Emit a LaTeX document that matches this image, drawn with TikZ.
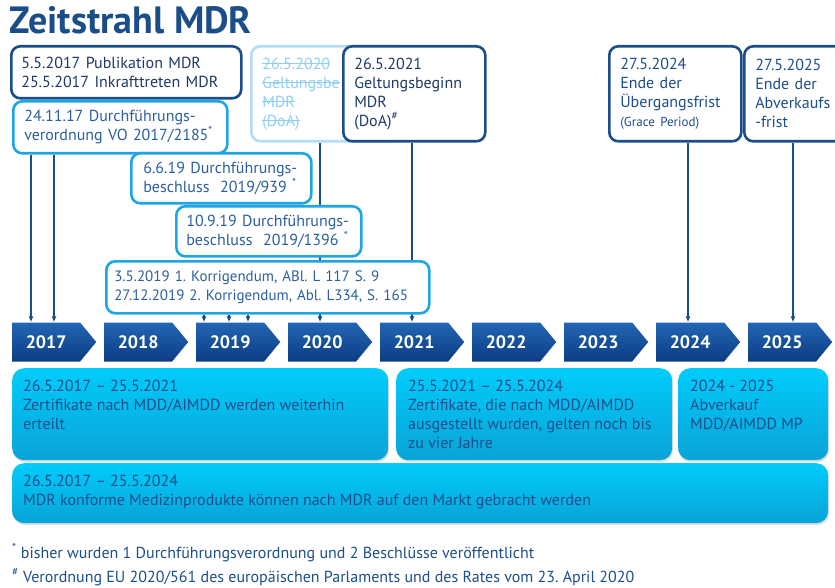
\documentclass[tikz,border=0pt]{standalone}
\usepackage{fontspec}
\setmainfont{PT Sans}
\usetikzlibrary{positioning,shapes.symbols,shadows,arrows.meta,backgrounds}
\definecolor{navy}{HTML}{1B4D89}
\definecolor{sky}{HTML}{1EA5E3}
\definecolor{pale}{HTML}{B3DDF6}
\definecolor{paletext}{HTML}{8FCFF3}
\definecolor{dktext}{HTML}{1E3A68}
\definecolor{lttext}{HTML}{2C5FA0}
\definecolor{cyantext}{HTML}{1C4E8C}
\definecolor{chevtop}{HTML}{2266B3}
\definecolor{chevbot}{HTML}{0C3C84}
\definecolor{cyantop}{HTML}{00CCFB}
\definecolor{cyanbot}{HTML}{0AA3D8}
\newsavebox\strkbox
\newcommand\strk[1]{\leavevmode\sbox\strkbox{#1}\rlap{\rule[0.3em]{\wd\strkbox}{0.07em}}\usebox\strkbox}
\frenchspacing

\begin{document}
\begin{tikzpicture}[x=1pt,y=-1pt]
	\tikzstyle{every node}+=[inner sep=0pt]
	\tikzstyle{body}=[font=\fontsize{16}{19}\selectfont]
	\tikzstyle{dkbox}=[body, draw=navy, line width=2.6pt, rounded corners=9pt, fill=white, text=dktext, align=left, inner xsep=10pt, anchor=north west]
	\tikzstyle{ltbox}=[dkbox, draw=sky, text=lttext]
	\tikzstyle{yearbox}=[signal, signal to=east, signal pointer angle=101, minimum width=84pt, minimum height=39pt, top color=chevtop, bottom color=chevbot, text=white, font=\fontsize{18}{18}\bfseries\selectfont, anchor=west]
	\tikzstyle{period}=[rounded corners=12pt, top color=cyantop, bottom color=cyanbot, drop shadow={opacity=0.25, shadow xshift=1pt, shadow yshift=-2pt}, anchor=north west]
	\tikzstyle{ptext}=[body, text=cyantext, align=left, anchor=north west]
	\tikzstyle{arr}=[navy, line width=1.1pt, -{Latex[length=6pt,width=5pt]}]
	\useasboundingbox (0,0) rectangle (835,588);
	\clip (0,0) rectangle (835,588);
	% title
	\node[anchor=base west, text=navy, font=\fontsize{38}{38}\bfseries\selectfont] (title) at (9,34) {Zeitstrahl MDR};
	% dates above the time line
	\node[dkbox, text width=210pt, minimum height=52pt] (bpub) at (10,45) {5.5.2017 Publikation MDR\\25.5.2017 Inkrafttreten MDR};
	\node[ltbox, text width=192pt, inner xsep=11pt, minimum height=52pt] (bvo) at (12,100) {24.11.17 Durchführungs-\\verordnung VO 2017/2185\textsuperscript{*}};
	\node[dkbox, draw=pale, text=paletext, text width=130pt, inner xsep=11pt, minimum height=95pt] (bdoa20) at (250,45) {\strk{26.5.2020}\\\strk{Geltungsbe}\\\strk{MDR}\\\strk{(DoA)}};
	\node[dkbox, text width=120pt, inner xsep=11pt, minimum height=95pt] (bdoa21) at (342,45) {26.5.2021\\Geltungsbeginn\\MDR\\(DoA)\textsuperscript{\#}};
	\node[ltbox, text width=156pt, inner xsep=12pt, minimum height=50pt] (bb939) at (130,152) {6.6.19 Durchführungs-\\beschluss~ 2019/939 \textsuperscript{*}};
	\node[ltbox, text width=165pt, minimum height=50pt] (bb1396) at (175,205) {10.9.19 Durchführungs-\\beschluss~ 2019/1396 \textsuperscript{*}};
	\node[ltbox, font=\fontsize{15}{19}\selectfont, text width=307pt, inner xsep=8pt, minimum height=52pt] (bkorr) at (105,260) {3.5.2019 1. Korrigendum, ABl. L 117 S. 9\\27.12.2019 2. Korrigendum, Abl. L334, S. 165};
	\node[dkbox, text=cyantext, text width=110pt, inner xsep=11pt, minimum height=95pt] (bgrace) at (608,45) {27.5.2024\\Ende der\\Übergangsfrist\\{\fontsize{13}{17}\selectfont(Grace Period)}};
	\node[dkbox, text=cyantext, text width=100pt, inner xsep=11pt, minimum height=95pt] (bsale) at (743,45) {27.5.2025\\Ende der\\Abverkaufs\\-frist};
	% time line
	\foreach \yr [count=\i from 0] in {2017,...,2025}
		\node[yearbox] (y\yr) at (12+92*\i,342) {\yr};
	\begin{pgfonlayer}{background}
		\foreach \x/\a/\b in {31/bvo/y2017, 54/bvo/y2017, 204/bkorr/y2019, 229/bkorr/y2019, 248/bkorr/y2019, 320/bdoa20/y2020, 412/bdoa21/y2021, 688/bgrace/y2024, 793/bsale/y2025} {
			\coordinate (p) at (\x,0);
			\draw[arr] (\a.south -| p) -- (\b.north -| p);
		}
	\end{pgfonlayer}
	% periods
	\node[period, minimum width=376pt, minimum height=92pt] (pmdd) at (12,368) {};
	\node[ptext, below right=12pt and 11pt of pmdd.north west] (tmdd) {26.5.2017 -- 25.5.2021\\Zertifikate nach MDD/AIMDD werden weiterhin\\erteilt};
	\node[period, minimum width=276pt, minimum height=92pt] (pcert) at (396,368) {};
	\node[ptext, below right=12pt and 12pt of pcert.north west] (tcert) {25.5.2021 -- 25.5.2024\\Zertifikate, die nach MDD/AIMDD\\ausgestellt wurden, gelten noch bis\\zu vier Jahre};
	\node[period, minimum width=150pt, minimum height=92pt] (psale) at (678,368) {};
	\node[ptext, below right=12pt and 12pt of psale.north west] (tsale) {2024 - 2025\\Abverkauf\\MDD/AIMDD MP};
	\node[period, minimum width=816pt, minimum height=60pt] (pmdr) at (12,463) {};
	\node[ptext, below right=12pt and 11pt of pmdr.north west] (tmdr) {26.5.2017 -- 25.5.2024\\MDR konforme Medizinprodukte können nach MDR auf den Markt gebracht werden};
	% footnotes
	\node[anchor=base west, text=cyantext, font=\fontsize{16}{16}\selectfont] (fn1) at (12,558) {\textsuperscript{*} bisher wurden 1 Durchführungsverordnung und 2 Beschlüsse veröffentlicht};
	\node[anchor=base west, text=cyantext, font=\fontsize{16}{16}\selectfont] (fn2) at (12,582) {\textsuperscript{\#} Verordnung EU 2020/561 des europäischen Parlaments und des Rates vom 23. April 2020};
\end{tikzpicture}
\end{document}
